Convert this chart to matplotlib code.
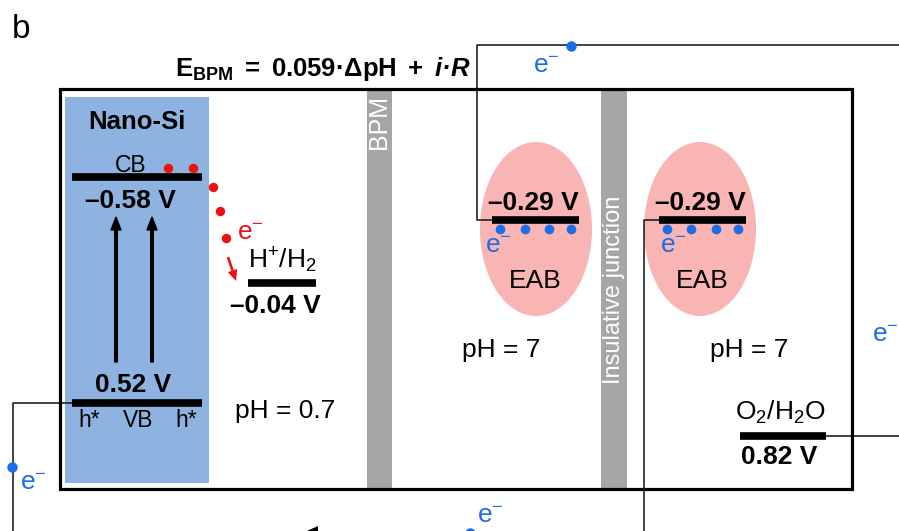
import matplotlib.pyplot as plt
from matplotlib.patches import Rectangle, Ellipse, Polygon

plt.rcParams['font.family'] = ['Liberation Sans', 'DejaVu Sans']
plt.rcParams['mathtext.fontset'] = 'custom'
plt.rcParams['mathtext.rm'] = 'Liberation Sans'
plt.rcParams['mathtext.bf'] = 'Liberation Sans:bold'
plt.rcParams['mathtext.it'] = 'Liberation Sans:italic'
plt.rcParams['mathtext.bfit'] = 'Liberation Sans:italic:bold'

# energy levels (V)
cb_si = -0.58
vb_si = 0.52
h_couple = -0.04
eab_left = -0.29
eab_right = -0.29
o2_couple = 0.82
ph_anode = 0.7
ph_cathode = [7, 7]

E_MINUS = r'$\mathrm{e^{-}}$'
BLUE = '#1a6ee8'
RED = '#ee1111'
WIRE = '#222222'


def volt(v):
    s = f'{abs(v):.2f} V'
    return ('\u2013' + s) if v < 0 else s


fig = plt.figure(figsize=(8.99, 5.31), dpi=100)
ax = fig.add_axes([0, 0, 1, 1])
ax.set_xlim(0, 899)
ax.set_ylim(531, 0)
ax.axis('off')

# panel letter and BPM voltage equation
ax.text(12, 38, 'b', fontsize=24, ha='left', va='baseline')
ax.text(175, 76, r'$\mathbf{E_{BPM}\ =\ 0.059·ΔpH\ +\ }\mathbfit{i·R}$',
        fontsize=18.5, ha='left', va='baseline')

# cell outline, nano-Si photoanode, membranes
ax.add_patch(Rectangle((60, 89), 792, 400, fill=False, ec='black', lw=2.3, zorder=3))
ax.add_patch(Rectangle((65, 97), 144, 386, fc='#8fb3e1', ec='none', zorder=1))
ax.add_patch(Rectangle((367, 91), 25, 397, fc='#a6a6a6', ec='none', zorder=1))
ax.add_patch(Rectangle((601, 91), 26, 397, fc='#a6a6a6', ec='none', zorder=1))
ax.text(379, 122, 'BPM', color='white', fontsize=18, rotation=90,
        ha='center', va='center')
ax.text(614, 290, 'Insulative junction', color='white', fontsize=17, rotation=90,
        ha='center', va='center')

# EAB electrodes
for cx in (536, 700):
    ax.add_patch(Ellipse((cx, 229), 112, 174, fc='#f9b4b4', ec='none', zorder=1))

# wires
ax.plot([72, 13, 13], [403, 403, 540], color=WIRE, lw=1.2, zorder=2)
ax.plot([492, 477, 477, 905], [220, 220, 45, 45], color=WIRE, lw=1.2, zorder=2)
ax.plot([659, 644, 644], [220, 220, 540], color=WIRE, lw=1.2, zorder=4)
ax.plot([826, 905], [436, 436], color=WIRE, lw=1.2, zorder=2)
ax.add_patch(Polygon([[298, 535], [318, 526], [318, 544]], closed=True,
                     fc='black', ec='none'))

# energy level bars
bars = [((72, 202), 177), ((72, 202), 403), ((248, 316), 283),
        ((492, 579), 220), ((659, 746), 220), ((740, 826), 436)]
for (x0, x1), y in bars:
    ax.plot([x0, x1], [y, y], color='black', lw=5.5, solid_capstyle='butt', zorder=5)

# excitation arrows
for x in (116, 152):
    ax.arrow(x, 362, 0, -145, width=2.6, head_width=10, head_length=13,
             length_includes_head=True, color='black', zorder=5)

# band labels
ax.text(137, 129, 'Nano-Si', fontsize=18.5, fontweight='bold', ha='center', va='baseline')
ax.text(131, 172, 'CB', fontsize=16.5, ha='center', va='baseline')
ax.text(130, 208, volt(cb_si), fontsize=19, fontweight='bold', ha='center', va='baseline')
ax.text(133, 392, volt(vb_si), fontsize=19, fontweight='bold', ha='center', va='baseline')
for x, s in [(89, 'h*'), (138, 'VB'), (186, 'h*')]:
    ax.text(x, 427, s, fontsize=16.5, ha='center', va='baseline')

# photoelectrons toward H+/H2
ax.plot([168, 193, 213, 220, 226], [168, 168, 187, 211, 238], 'o', color=RED,
        ms=6.8, mec='none', zorder=6)
ax.text(237, 240, E_MINUS, color=RED, fontsize=19, ha='left', va='baseline')
ax.arrow(228, 257, 8, 24, width=2.6, head_width=10, head_length=11,
         length_includes_head=True, color=RED, ec='none', zorder=6)
ax.text(282, 268, r'$\mathrm{H^{+}/H_{2}}$', fontsize=19, ha='center', va='baseline')
ax.text(275, 313, volt(h_couple), fontsize=19, fontweight='bold', ha='center', va='baseline')
ax.text(235, 418, f'pH = {ph_anode}', fontsize=19, ha='left', va='baseline')

# EAB levels
for cx, v in [(533, eab_left), (700, eab_right)]:
    ax.text(cx, 210, volt(v), fontsize=19, fontweight='bold', ha='center', va='baseline')
    ax.text(cx + 2, 288, 'EAB', fontsize=19, ha='center', va='baseline')
ax.plot([500, 525, 549, 571, 667, 691, 716, 738], [229] * 8, 'o', color=BLUE,
        ms=7, mec='none', zorder=6)
ax.text(485, 253, E_MINUS, color=BLUE, fontsize=19, ha='left', va='baseline')
ax.text(660, 253, E_MINUS, color=BLUE, fontsize=19, ha='left', va='baseline')
ax.text(462, 357, f'pH = {ph_cathode[0]}', fontsize=19, ha='left', va='baseline')
ax.text(710, 357, f'pH = {ph_cathode[1]}', fontsize=19, ha='left', va='baseline')

# O2/H2O couple
ax.text(780, 420, r'$\mathrm{O_{2}/H_{2}O}$', fontsize=19, ha='center', va='baseline')
ax.text(779, 464, volt(o2_couple), fontsize=19, fontweight='bold', ha='center', va='baseline')

# electrons in the external circuit
ax.plot([571, 12, 470], [46, 467, 533], 'o', color=BLUE, ms=7.5, mec='none', zorder=6)
ax.text(533, 73, E_MINUS, color=BLUE, fontsize=19, ha='left', va='baseline')
ax.text(20, 490, E_MINUS, color=BLUE, fontsize=19, ha='left', va='baseline')
ax.text(477, 523, E_MINUS, color=BLUE, fontsize=19, ha='left', va='baseline')
ax.text(872, 342, E_MINUS, color=BLUE, fontsize=19, ha='left', va='baseline')

fig.savefig('out.png', dpi=100)
